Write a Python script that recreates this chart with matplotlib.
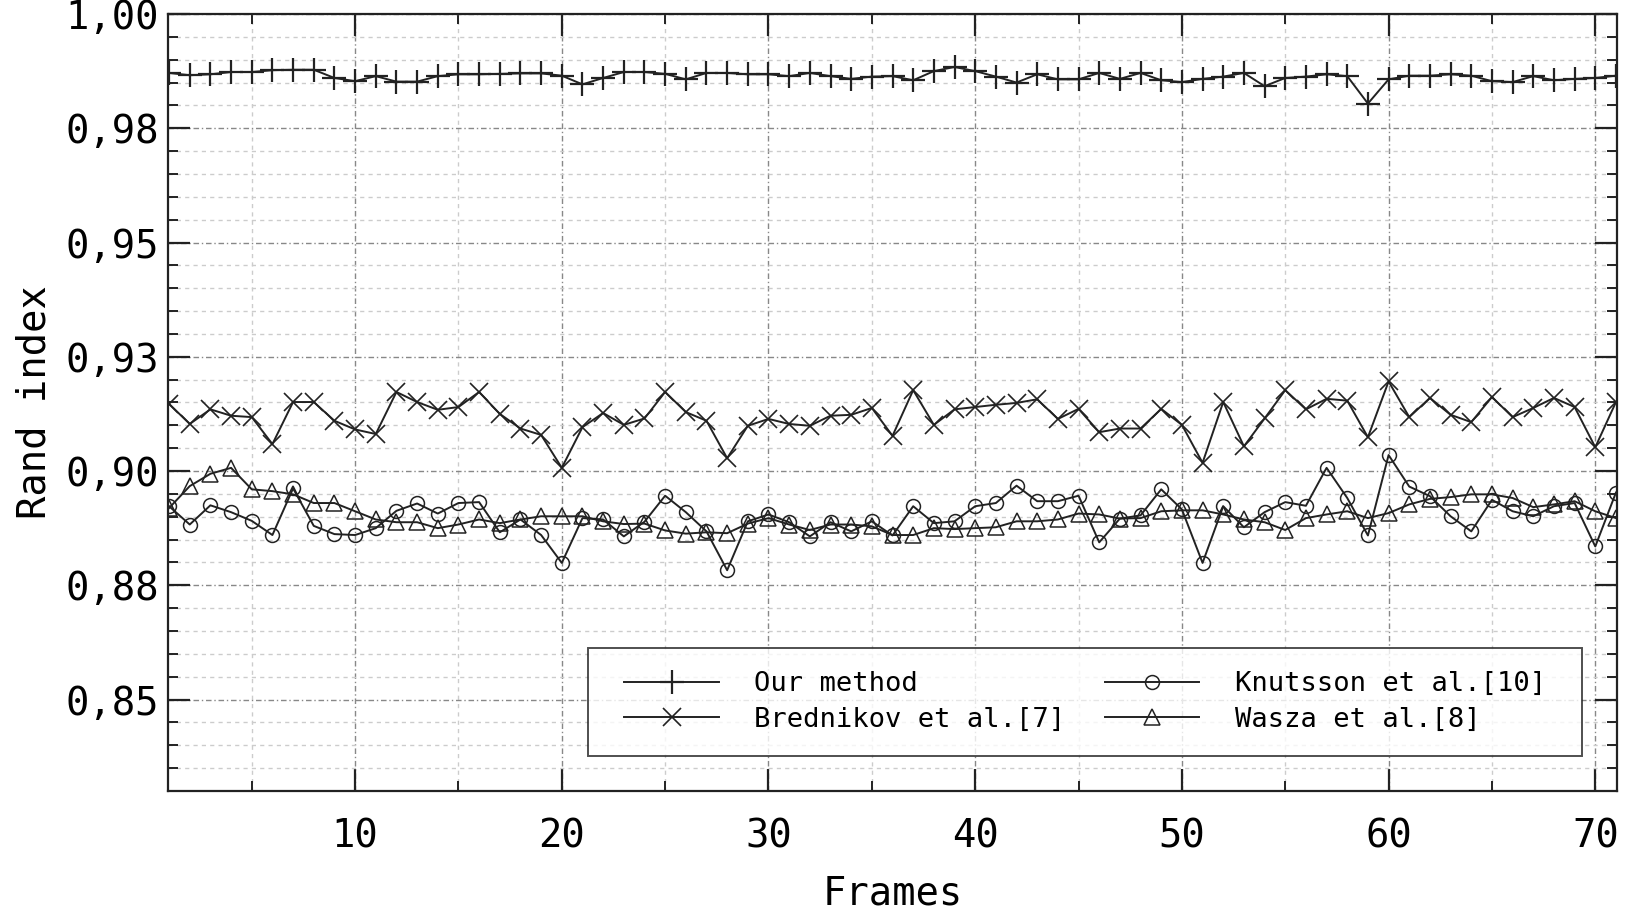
import numpy as np
import matplotlib
matplotlib.use("Agg")
import matplotlib.pyplot as plt
from matplotlib.path import Path
from matplotlib.ticker import MultipleLocator, FixedLocator, FixedFormatter

frames = list(range(1, 72))

our_method = [
    0.9871, 0.9866, 0.9868, 0.9873, 0.9873, 0.9877, 0.9878, 0.9878, 0.9860, 0.9853,
    0.9864, 0.9852, 0.9852, 0.9864, 0.9868, 0.9868, 0.9869, 0.9870, 0.9870, 0.9865,
    0.9846, 0.9860, 0.9873, 0.9873, 0.9869, 0.9857, 0.9871, 0.9871, 0.9868, 0.9868,
    0.9864, 0.9871, 0.9864, 0.9858, 0.9863, 0.9864, 0.9855, 0.9875, 0.9884, 0.9875,
    0.9863, 0.9850, 0.9868, 0.9857, 0.9857, 0.9871, 0.9858, 0.9871, 0.9855, 0.9851,
    0.9858, 0.9863, 0.9871, 0.9842, 0.9860, 0.9863, 0.9868, 0.9864, 0.9804, 0.9857,
    0.9865, 0.9865, 0.9868, 0.9865, 0.9853, 0.9851, 0.9864, 0.9855, 0.9858, 0.9860,
    0.9865,
]
brednikov = [
    0.9147, 0.9103, 0.9135, 0.9121, 0.9118, 0.9059, 0.9151, 0.9151, 0.9110, 0.9091,
    0.9081, 0.9173, 0.9151, 0.9134, 0.9140, 0.9173, 0.9125, 0.9093, 0.9079, 0.9007,
    0.9096, 0.9127, 0.9101, 0.9115, 0.9173, 0.9129, 0.9110, 0.9028, 0.9099, 0.9114,
    0.9103, 0.9099, 0.9121, 0.9123, 0.9138, 0.9077, 0.9177, 0.9101, 0.9135, 0.9140,
    0.9145, 0.9149, 0.9157, 0.9114, 0.9136, 0.9085, 0.9093, 0.9093, 0.9136, 0.9101,
    0.9018, 0.9151, 0.9054, 0.9115, 0.9177, 0.9135, 0.9158, 0.9154, 0.9074, 0.9196,
    0.9118, 0.9160, 0.9123, 0.9107, 0.9162, 0.9118, 0.9138, 0.9160, 0.9140, 0.9052,
    0.9151,
]
knutsson = [
    0.8923, 0.8883, 0.8925, 0.8910, 0.8891, 0.8860, 0.8962, 0.8880, 0.8862, 0.8860,
    0.8875, 0.8913, 0.8929, 0.8907, 0.8930, 0.8932, 0.8866, 0.8894, 0.8860, 0.8799,
    0.8897, 0.8894, 0.8857, 0.8889, 0.8946, 0.8910, 0.8868, 0.8783, 0.8890, 0.8905,
    0.8888, 0.8857, 0.8888, 0.8868, 0.8890, 0.8859, 0.8923, 0.8886, 0.8890, 0.8923,
    0.8930, 0.8968, 0.8934, 0.8934, 0.8946, 0.8844, 0.8896, 0.8903, 0.8960, 0.8916,
    0.8799, 0.8923, 0.8877, 0.8910, 0.8932, 0.8924, 0.9007, 0.8941, 0.8859, 0.9035,
    0.8966, 0.8945, 0.8901, 0.8868, 0.8937, 0.8912, 0.8901, 0.8923, 0.8930, 0.8835,
    0.8953,
]
wasza = [
    0.8919, 0.8967, 0.8994, 0.9007, 0.8960, 0.8956, 0.8949, 0.8930, 0.8930, 0.8912,
    0.8894, 0.8888, 0.8888, 0.8875, 0.8883, 0.8894, 0.8886, 0.8894, 0.8901, 0.8901,
    0.8901, 0.8890, 0.8884, 0.8885, 0.8870, 0.8863, 0.8866, 0.8864, 0.8885, 0.8897,
    0.8883, 0.8871, 0.8883, 0.8883, 0.8879, 0.8860, 0.8860, 0.8875, 0.8873, 0.8875,
    0.8877, 0.8890, 0.8890, 0.8894, 0.8907, 0.8905, 0.8896, 0.8897, 0.8912, 0.8914,
    0.8914, 0.8905, 0.8894, 0.8888, 0.8871, 0.8897, 0.8905, 0.8912, 0.8897, 0.8908,
    0.8927, 0.8939, 0.8943, 0.8949, 0.8949, 0.8941, 0.8921, 0.8927, 0.8934, 0.8912,
    0.8897,
]

y_ticks = [0.85, 0.875, 0.90, 0.925, 0.95, 0.975, 1.00]
y_tick_labels = ["0,85", "0,88", "0,90", "0,93", "0,95", "0,98", "1,00"]
x_ticks = [10, 20, 30, 40, 50, 60, 70]

plt.rcParams["font.family"] = ["DejaVu Sans Mono"]
line_col = "#222222"


def wide_box(x0, y0, width, height, mutation_size, *args):
    # legend frame with extra room left and right only
    pad = 0.5 * mutation_size
    x0 -= pad
    width += 2 * pad
    return Path([(x0, y0), (x0 + width, y0), (x0 + width, y0 + height),
                 (x0, y0 + height), (x0, y0)], closed=True)


fig = plt.figure(figsize=(16.33, 9.14), dpi=100)
ax = fig.add_axes([0.1029, 0.1346, 0.8873, 0.8501])

ax.plot(frames, our_method, color=line_col, lw=1.4, marker="+", ms=17, mew=1.6,
        label="Our method")
ax.plot(frames, brednikov, color=line_col, lw=1.4, marker="x", ms=13, mew=1.2,
        label="Brednikov et al.[7]")
ax.plot(frames, knutsson, color=line_col, lw=1.4, marker="o", ms=10, mew=1.1,
        mfc="none", label="Knutsson et al.[10]")
ax.plot(frames, wasza, color=line_col, lw=1.4, marker="^", ms=11, mew=1.1,
        mfc="none", label="Wasza et al.[8]")

ax.set_xlim(0.95, 71.05)
ax.set_ylim(0.83, 1.0)

ax.xaxis.set_major_locator(FixedLocator(x_ticks))
ax.xaxis.set_minor_locator(MultipleLocator(5))
ax.yaxis.set_major_locator(FixedLocator(y_ticks))
ax.yaxis.set_major_formatter(FixedFormatter(y_tick_labels))
ax.yaxis.set_minor_locator(MultipleLocator(0.005))

ax.grid(which="major", color="#888888", linestyle=(0, (4, 2, 1, 2)), lw=1.0)
ax.grid(which="minor", color="#cccccc", linestyle=(0, (3, 3)), lw=1.0)
ax.set_axisbelow(True)

ax.tick_params(which="both", direction="in", top=True, right=True, color="#222222")
ax.tick_params(which="major", length=16, width=1.6, labelsize=28)
ax.tick_params(which="minor", length=7, width=1.4)
ax.tick_params(axis="x", which="major", pad=19)
ax.tick_params(axis="y", which="major", pad=6.5)
for s in ax.spines.values():
    s.set_linewidth(1.6)
    s.set_color("#222222")

ax.set_xlabel("Frames", fontsize=28, labelpad=14)
ax.set_ylabel("Rand index", fontsize=28, labelpad=9)

leg = ax.legend(ncol=2, loc="lower right", bbox_to_anchor=(0.976, 0.028),
                fontsize=19.5, frameon=True, fancybox=False, edgecolor="#222222",
                handlelength=3.5, handletextpad=1.3, columnspacing=1.45,
                borderpad=0.85, labelspacing=0.35)
leg.get_frame().set_linewidth(1.4)
leg.get_frame().set_boxstyle(wide_box)

fig.savefig("out.png", dpi=100)
